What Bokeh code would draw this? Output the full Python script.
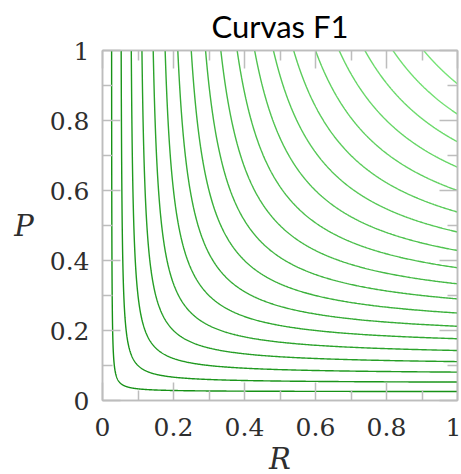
import numpy as np
from bokeh.plotting import figure
from bokeh.models import (Range1d, LinearAxis, FixedTicker, ColumnDataSource,
                          CustomLabelingPolicy)
from bokeh.embed import file_html
from bokeh.resources import INLINE

# F1 iso-levels drawn (0.05 step up to 0.95)
f1_levels = [0.05, 0.10, 0.15, 0.20, 0.25, 0.30, 0.35, 0.40, 0.45, 0.50,
             0.55, 0.60, 0.65, 0.70, 0.75, 0.80, 0.85, 0.90, 0.95]
major_ticks = [0, 0.2, 0.4, 0.6, 0.8, 1]
minor_ticks = [0.1, 0.3, 0.5, 0.7, 0.9]
tick_labels = ["0", "0.2", "0.4", "0.6", "0.8", "1"]
title_text = "Curvas F1"
x_label = "R"
y_label = "P"

dark = np.array([22, 145, 22])
light = np.array([118, 228, 118])

xs, ys, colors = [], [], []
n = len(f1_levels)
for i, f in enumerate(f1_levels):
    r0 = f / (2 - f)
    u = np.linspace(0, 1, 500) ** 3
    r = r0 + (1 - r0) * u
    pr = f * r / (2 * r - f)
    xs.append(list(r))
    ys.append(list(pr))
    t = i / (n - 1)
    c = (dark + (light - dark) * t).astype(int)
    colors.append("#%02x%02x%02x" % tuple(c))

src = ColumnDataSource(dict(xs=xs, ys=ys, color=colors))

p = figure(frame_width=355, frame_height=350,
           x_range=Range1d(0, 1), y_range=Range1d(0, 1),
           output_backend="svg", toolbar_location=None,
           min_border_left=102, min_border_right=4,
           min_border_top=50, min_border_bottom=74,
           background_fill_color="white", border_fill_color="white")
p.grid.visible = False
p.outline_line_color = "#bdbdbd"
p.outline_line_width = 1.5

p.multi_line(xs="xs", ys="ys", line_color="color", line_width=1.4, source=src)

grey = "#bdbdbd"
overrides = {t: l for t, l in zip(major_ticks, tick_labels)}
hide_all = CustomLabelingPolicy(code="""
    const a = [...indices];
    for (const i of a) indices.unset(i);
    return indices;
""")

def style(ax, show_labels=True):
    ax.ticker = FixedTicker(ticks=major_ticks, minor_ticks=minor_ticks)
    ax.axis_line_color = grey
    ax.axis_line_width = 1.5
    ax.major_tick_line_color = grey
    ax.major_tick_line_width = 1.5
    ax.minor_tick_line_color = grey
    ax.minor_tick_line_width = 1.5
    ax.major_tick_in = 18
    ax.major_tick_out = 0
    ax.minor_tick_in = 10
    ax.minor_tick_out = 0
    if show_labels:
        ax.major_label_overrides = overrides
        ax.major_label_text_font = "DejaVu Serif"
        ax.major_label_text_font_size = "25px"
        ax.major_label_text_color = "#2e2e2e"
    else:
        ax.major_label_policy = hide_all
        ax.major_label_text_font_size = "1px"
        ax.major_label_standoff = 0

xa = p.xaxis[0]
ya = p.yaxis[0]
style(xa)
style(ya)
xa.major_label_standoff = 17
ya.major_label_standoff = 13

xa.axis_label = x_label
xa.axis_label_text_font = "DejaVu Serif"
xa.axis_label_text_font_style = "italic"
xa.axis_label_text_font_size = "29px"
xa.axis_label_text_color = "#2e2e2e"
xa.axis_label_standoff = 3

ya.axis_label = y_label
ya.axis_label_orientation = "horizontal"
ya.axis_label_text_font = "DejaVu Serif"
ya.axis_label_text_font_style = "italic"
ya.axis_label_text_font_size = "29px"
ya.axis_label_text_color = "#2e2e2e"
ya.axis_label_standoff = 13

ra = LinearAxis()
style(ra, show_labels=False)
p.add_layout(ra, "right")
ta = LinearAxis()
style(ta, show_labels=False)
p.add_layout(ta, "above")

p.title.text = title_text
p.title.text_font = "Lato"
p.title.text_font_size = "31px"
p.title.text_font_style = "normal"
p.title.text_color = "black"
p.title.align = "center"
p.title.standoff = 4

open("out.html", "w").write(file_html(p, INLINE))
